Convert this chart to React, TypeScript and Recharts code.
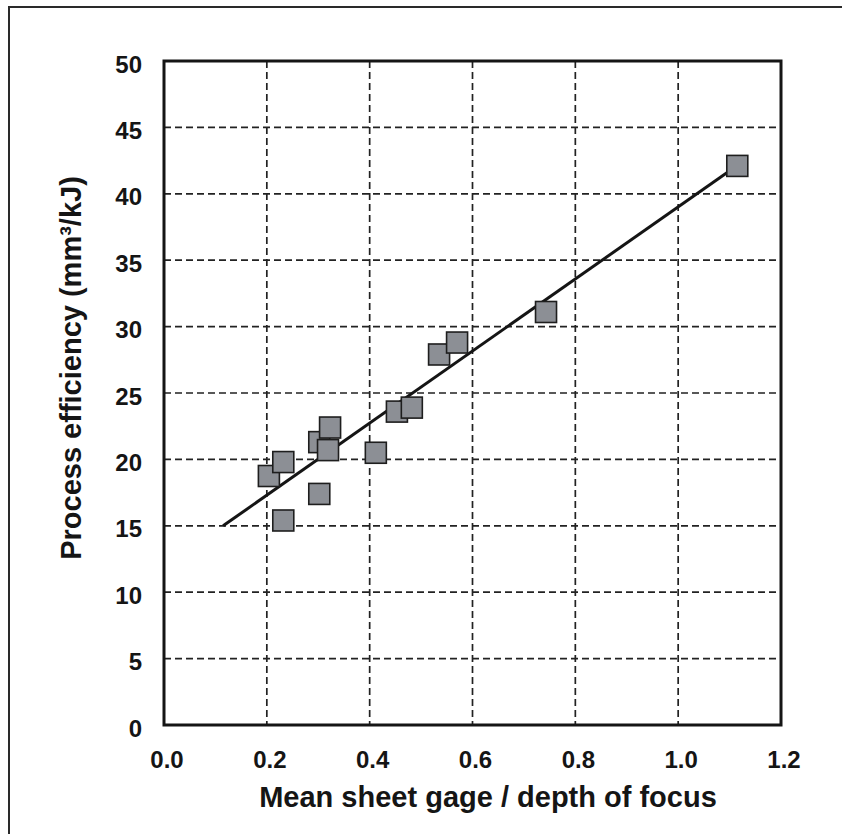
import React from 'react';
import {
  ScatterChart, Scatter, XAxis, YAxis, CartesianGrid, ReferenceArea, Label,
} from 'recharts';

// values
const gageRatio = [0.204, 0.232, 0.232, 0.302, 0.302, 0.319, 0.323, 0.412, 0.453, 0.482, 0.535, 0.57, 0.743, 1.115];
const efficiency = [18.75, 19.8, 15.4, 17.4, 21.3, 20.7, 22.4, 20.5, 23.6, 23.9, 27.9, 28.8, 31.1, 42.1];

const fitX = [0.115, 1.11];
const fitY = [15.0, 42.0];

const xTicks = [0, 0.2, 0.4, 0.6, 0.8, 1.0, 1.2];
const yTicks = [0, 5, 10, 15, 20, 25, 30, 35, 40, 45, 50];

const points = gageRatio.map((x, i) => ({ x, y: efficiency[i] }));
const fitLine = fitX.map((x, i) => ({ x, y: fitY[i] }));

const FONT = 'Arial, "Liberation Sans", Helvetica, sans-serif';

const Square = (props: any) => {
  const { cx, cy } = props;
  if (cx == null || cy == null) return null;
  return <rect x={cx - 10.5} y={cy - 10.5} width={21} height={21} fill="#8c8f95" stroke="#1e1e1e" strokeWidth={1.6} />;
};

const App: React.FC = () => {
  return (
    <div style={{ position: 'absolute', left: 0, top: 0, width: 842, height: 834, background: '#fff', fontFamily: FONT }}>
      <div style={{ position: 'absolute', left: 8, top: 6, width: 834, height: 828, borderLeft: '2px solid #2a2a2a', borderTop: '2px solid #2a2a2a' }} />
      <ScatterChart width={842} height={834} margin={{ top: 61, right: 61, bottom: 49, left: 64 }}>
        <CartesianGrid stroke="#222" strokeDasharray="7 4" strokeWidth={1.7} />
        <XAxis
          type="number"
          dataKey="x"
          domain={[0, 1.2]}
          ticks={xTicks}
          height={60}
          axisLine={false}
          tickLine={false}
          tickSize={0}
          tickMargin={26}
          tickFormatter={(v: number) => v.toFixed(1)}
          tick={{ fill: '#151515', fontSize: 24, fontWeight: 'bold', fontFamily: FONT, dx: 3 }}
        >
          <Label
            content={() => (
              <text x={488} y={807} textAnchor="middle" fill="#151515" fontSize={29} fontWeight="bold" fontFamily={FONT}>
                Mean sheet gage / depth of focus
              </text>
            )}
          />
        </XAxis>
        <YAxis
          type="number"
          dataKey="y"
          domain={[0, 50]}
          ticks={yTicks}
          width={100}
          axisLine={false}
          tickLine={false}
          tickSize={0}
          tickMargin={22}
          tick={{ fill: '#151515', fontSize: 24, fontWeight: 'bold', fontFamily: FONT, dy: 3 }}
        >
          <Label
            content={() => (
              <text x={81} y={368} transform="rotate(-90 81 368)" textAnchor="middle" fill="#151515" fontSize={29} fontWeight="bold" fontFamily={FONT}>
                Process efficiency (mm³/kJ)
              </text>
            )}
          />
        </YAxis>
        <ReferenceArea x1={0} x2={1.2} y1={0} y2={50} fill="none" stroke="#151515" strokeWidth={3} />
        <Scatter data={fitLine} line={{ stroke: '#151515', strokeWidth: 3 }} shape={() => null} isAnimationActive={false} />
        <Scatter data={points} shape={Square} isAnimationActive={false} />
      </ScatterChart>
    </div>
  );
};

export default App;
